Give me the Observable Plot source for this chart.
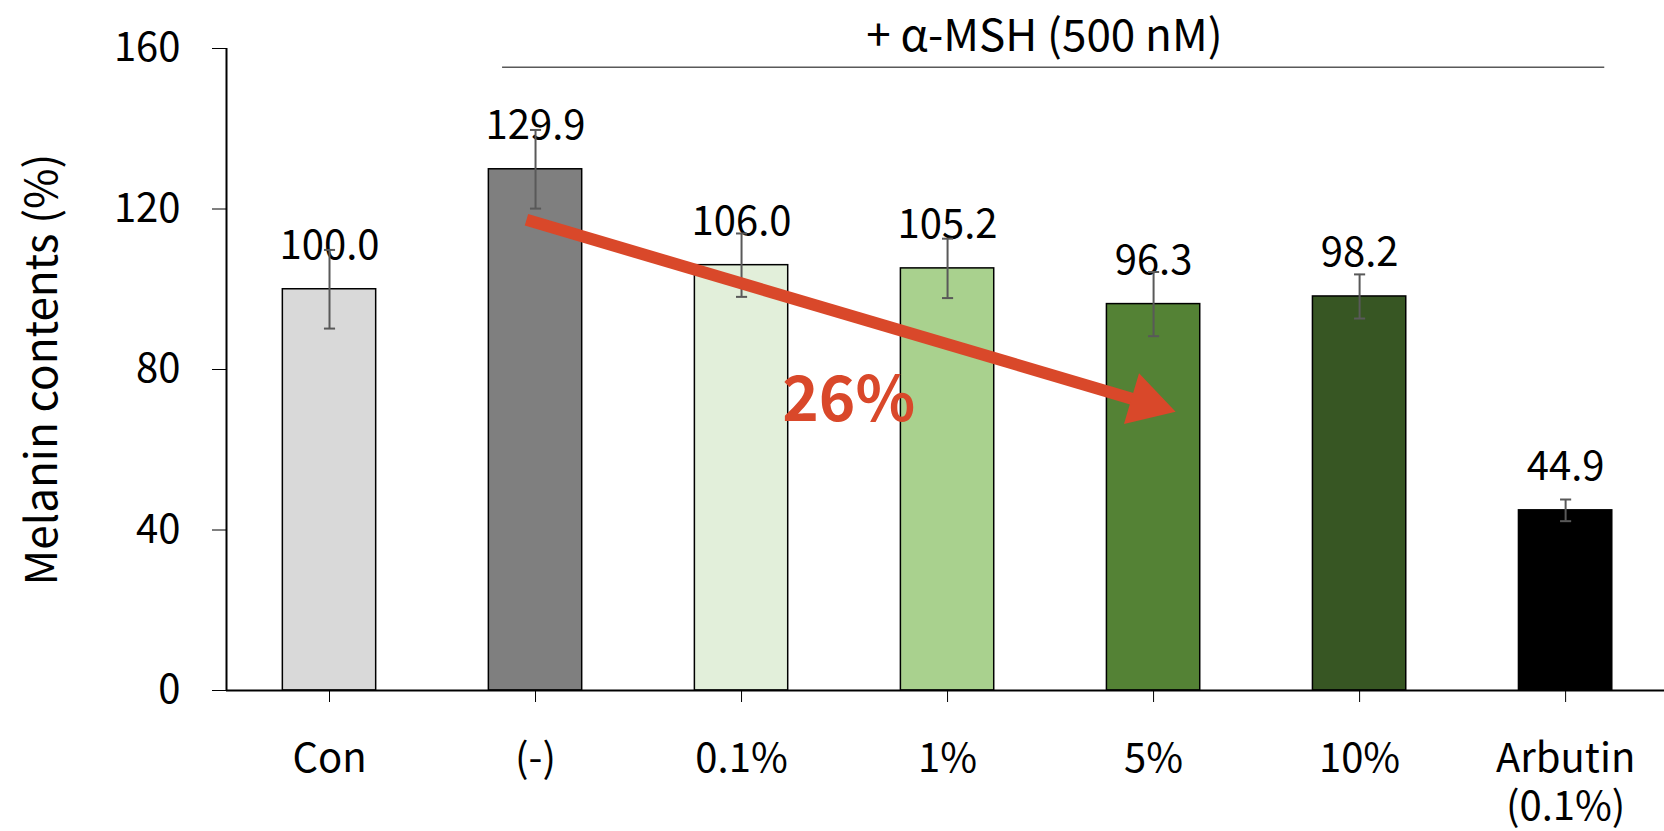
<!DOCTYPE html>
<html><head><meta charset="utf-8">
<script src="https://cdn.jsdelivr.net/npm/d3@7"></script>
<script src="https://cdn.jsdelivr.net/npm/@observablehq/plot@0.6"></script>
<style>body{margin:0;background:#fff}</style>
</head><body><div id="chart"></div>
<script>
const categories = ["Con", "(-)", "0.1%", "1%", "5%", "10%", "Arbutin\n(0.1%)"];
const values = [100.0, 129.9, 106.0, 105.2, 96.3, 98.2, 44.9];
const errors = [9.8, 9.8, 7.9, 7.4, 8.0, 5.5, 2.7];
const colors = ["#d9d9d9", "#7f7f7f", "#e2efda", "#a9d18e", "#548235", "#375623", "#000000"];
const yTicks = [0, 40, 80, 120, 160];
const yTitle = "Melanin contents (%)";
const groupLabel = "+ α-MSH (500 nM)";
const groupSpan = [0.84, 6.19];
const groupLineY = [155.3];
const groupTextPos = [3.47, 163];
const arrowFrom = [0.956, 117.3];
const arrowTo = [4.107, 69.5];
const arrowLabel = "26%";
const arrowLabelPos = [2.52, 72];

const FONT = "'Noto Sans CJK KR', 'Noto Sans', sans-serif";
const RED = "#d9482a";
const rows = categories.map((c, i) => ({i, c, v: values[i], e: errors[i], color: colors[i]}));
const half = 0.2265;

const options = {
  width: 1664, height: 831,
  marginLeft: 226, marginRight: 0, marginTop: 48, marginBottom: 141,
  style: {fontFamily: FONT, fontSize: "40px", color: "#000", background: "#fff"},
  x: {domain: [-0.5, 6.48], axis: null},
  y: {domain: [0, 160], axis: null},
  color: {type: "identity"}
};

const baseMarks = [
  Plot.rectY(rows, {x1: d => d.i - half, x2: d => d.i + half, y1: 0, y2: "v", fill: "color", stroke: "#000", strokeWidth: 1.5}),
  Plot.text(rows, {x: "i", y: "v", text: d => d.v.toFixed(1), dy: -30, lineAnchor: "bottom", fontSize: 40, fill: "#000"}),
  Plot.ruleX(rows, {x: "i", y1: d => d.v - d.e, y2: d => d.v + d.e, stroke: "#595959", strokeWidth: 2}),
  Plot.link(rows.flatMap(d => [d.v - d.e, d.v + d.e].map(y => ({i: d.i, y}))), {x1: d => d.i - 0.027, x2: d => d.i + 0.027, y1: "y", y2: "y", stroke: "#595959", strokeWidth: 2}),
  Plot.ruleY([0], {x1: -0.5, x2: 6.48, stroke: "#000", strokeWidth: 2}),
  Plot.ruleX([-0.5], {y1: 0, y2: 160, stroke: "#000", strokeWidth: 2}),
  Plot.axisY({ticks: yTicks, tickSize: 14, tickPadding: 32, label: null, fontSize: 40, tickFormat: d => String(d)}),
  Plot.axisX({ticks: d3.range(categories.length), tickSize: 12, tickPadding: 35, label: null, fontSize: 40, lineHeight: 1.2, tickFormat: i => categories[i]}),
  Plot.text([yTitle], {frameAnchor: "left", textAnchor: "middle", lineAnchor: "middle", rotate: -90, dx: -184, fontSize: 44, fill: "#000"}),
  Plot.ruleY(groupLineY, {x1: groupSpan[0], x2: groupSpan[1], stroke: "#595959", strokeWidth: 1.5}),
  Plot.text([groupLabel], {x: groupTextPos[0], y: groupTextPos[1], fontSize: 44, fill: "#000"})
];

const probe = Plot.plot({...options, marks: baseMarks});
const sx = probe.scale("x"), sy = probe.scale("y");
const p0 = [sx.apply(arrowFrom[0]), sy.apply(arrowFrom[1])];
const p1 = [sx.apply(arrowTo[0]), sy.apply(arrowTo[1])];
const ang = Math.atan2(p1[1] - p0[1], p1[0] - p0[0]);
const headLen = 46;
const cpx = [p1[0] - headLen * 2 / 3 * Math.cos(ang), p1[1] - headLen * 2 / 3 * Math.sin(ang)];
const headCenter = {x: sx.invert(cpx[0]), y: sy.invert(cpx[1])};
const yy = headLen / 3;
const symSize = 3 * Math.sqrt(3) * yy * yy;
const headR = Math.sqrt(symSize / Math.PI);

const arrowMarks = [
  Plot.link([0], {x1: arrowFrom[0], y1: arrowFrom[1], x2: headCenter.x, y2: headCenter.y, stroke: RED, strokeWidth: 12, strokeLinecap: "butt"}),
  Plot.dot([headCenter], {x: "x", y: "y", symbol: "triangle", r: headR, fill: RED, stroke: "none", rotate: ang * 180 / Math.PI + 90}),
  Plot.text([arrowLabel], {x: arrowLabelPos[0], y: arrowLabelPos[1], fontSize: 62, fontWeight: "bold", fill: RED, lineAnchor: "middle"})
];

const chart = Plot.plot({...options, marks: [...baseMarks, ...arrowMarks]});
document.getElementById("chart").appendChild(chart);
</script>
</body></html>
